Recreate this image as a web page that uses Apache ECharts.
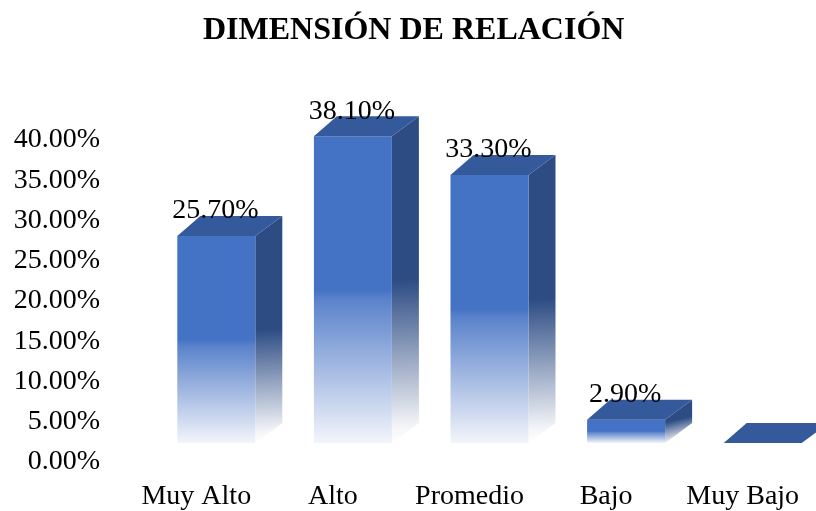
<!DOCTYPE html>
<html>
<head>
<meta charset="utf-8">
<script src="https://cdn.jsdelivr.net/npm/echarts@6/dist/echarts.min.js"></script>
<style>
html,body{margin:0;padding:0;background:#fff;}
#chart{width:816px;height:511px;}
</style>
</head>
<body>
<div id="chart"></div>
<script>
var categories = ['Muy Alto', 'Alto', 'Promedio', 'Bajo', 'Muy Bajo'];
var values = [25.7, 38.1, 33.3, 2.9, 0];
var yMin = 0, yMax = 40, yInterval = 5;
var titleText = 'DIMENSIÓN DE RELACIÓN';

var FONT = "'Liberation Serif', 'Times New Roman', serif";
var chart = echarts.init(document.getElementById('chart'));

function renderBar(params, api) {
  var idx = api.value(0);
  var v = api.value(1);
  var p0 = api.coord([idx, 0]);
  var p1 = api.coord([idx, v]);
  var off = 19, shiftX = 20, w = 78, dxL = 23, dxR = 27, dy = 20;
  var cx = p0[0] + shiftX;
  var left = cx - w / 2, right = cx + w / 2;
  var yb = p0[1] - off, yt = p1[1] - off;
  var children = [];
  if (yb - yt > 0.5) {
    children.push({
      type: 'polygon',
      shape: { points: [[right, yt], [right + dxR, yt - dy], [right + dxR, yb - dy], [right, yb]] },
      style: { fill: { type: 'linear', x: 0, y: 0, x2: 0.4, y2: 1, colorStops: [
        { offset: 0, color: '#2d4c84' }, { offset: 0.5, color: '#2d4c84' }, { offset: 0.95, color: '#f4f5f8' }, { offset: 1, color: '#ffffff' } ] } }
    });
    children.push({
      type: 'rect',
      shape: { x: left, y: yt, width: w, height: yb - yt },
      style: { fill: { type: 'linear', x: 0, y: 0, x2: 0, y2: 1, colorStops: [
        { offset: 0, color: '#4472c4' }, { offset: 0.5, color: '#4472c4' }, { offset: 0.53, color: '#5a82cb' },
        { offset: 1, color: '#f3f5fb' } ] } }
    });
  }
  children.push({
    type: 'polygon',
    shape: { points: [[left, yt], [left + dxL, yt - dy], [right + dxR, yt - dy], [right, yt]] },
    style: { fill: '#355a9b' }
  });
  if (v > 0) {
    children.push({
      type: 'text',
      style: { x: cx - 1, y: yt - 25, text: v.toFixed(2) + '%', fill: '#000', font: '28px ' + FONT, align: 'center', verticalAlign: 'middle' }
    });
  }
  return { type: 'group', children: children };
}

chart.setOption({
  animation: false,
  backgroundColor: '#ffffff',
  title: {
    text: titleText, left: 203, top: 15, padding: 0,
    textStyle: { fontFamily: FONT, fontSize: 32, fontWeight: 'bold', color: '#000' }
  },
  grid: { left: 128, right: 5, top: 140, bottom: 48, containLabel: false },
  xAxis: {
    type: 'category', data: categories,
    axisLine: { show: false }, axisTick: { show: false },
    axisLabel: { color: '#000', fontFamily: FONT, fontSize: 28, margin: 21, interval: 0 }
  },
  yAxis: {
    type: 'value', min: yMin, max: yMax, interval: yInterval,
    axisLine: { show: false }, axisTick: { show: false }, splitLine: { show: false },
    axisLabel: { color: '#000', fontFamily: FONT, fontSize: 28, margin: 28,
      formatter: function (v) { return v.toFixed(2) + '%'; } }
  },
  series: [{
    type: 'custom',
    renderItem: renderBar,
    clip: false,
    encode: { x: 0, y: 1 },
    data: values.map(function (v, i) { return [i, v]; })
  }]
});
</script>
</body>
</html>
